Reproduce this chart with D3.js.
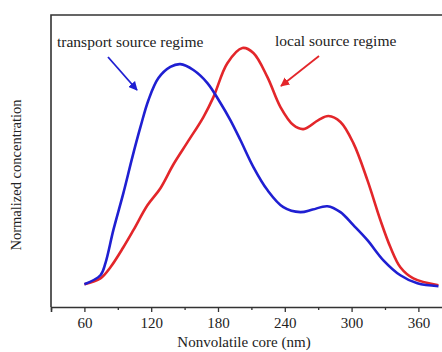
<!DOCTYPE html>
<html>
<head>
<meta charset="utf-8">
<script src="https://cdn.jsdelivr.net/npm/d3@7"></script>
<style>
  body { margin: 0; background: #fff; }
  svg { display: block; }
  text { font-family: "Liberation Serif", "DejaVu Serif", serif; fill: #222; }
</style>
</head>
<body>
<div id="chart"></div>
<script>
// core size in nm and normalized concentration
const transportX = [60, 74.4, 78.9, 86, 95, 103.1, 110.3, 117.5, 126.5, 137.2, 146.2, 157.9, 170.5, 182.2, 191.1, 200.1, 211.8, 224.4, 238.7, 254, 265, 278.3, 290, 301.6, 314.2, 328.6, 343.8, 359.1, 378];
const transportY = [0, 0.038, 0.089, 0.228, 0.384, 0.536, 0.662, 0.776, 0.869, 0.916, 0.928, 0.903, 0.848, 0.764, 0.692, 0.608, 0.494, 0.397, 0.325, 0.304, 0.315, 0.329, 0.304, 0.249, 0.186, 0.101, 0.038, 0.004, -0.008];

const localX = [60, 74.4, 83.4, 95, 104, 116.6, 128.3, 139.9, 152.5, 166.9, 175.9, 188.4, 201.9, 211.8, 224.4, 236.1, 247.7, 256.7, 270.2, 279.2, 290, 301.6, 314.2, 325.9, 334.9, 343.8, 355.5, 378];
const localY = [0, 0.025, 0.072, 0.156, 0.228, 0.333, 0.405, 0.505, 0.598, 0.705, 0.789, 0.932, 0.996, 0.975, 0.873, 0.747, 0.671, 0.654, 0.692, 0.709, 0.684, 0.595, 0.439, 0.270, 0.156, 0.072, 0.025, -0.004];

const majorTicks = [60, 120, 180, 240, 300, 360];
const minorTicks = [30, 90, 150, 210, 270, 330];

const width = 442, height = 352;
const plotLeft = 51, plotTop = 15, plotBottom = 307;

const svg = d3.select("#chart").append("svg")
  .attr("width", width)
  .attr("height", height);

const x = d3.scaleLinear().domain([30, 390]).range([plotLeft, plotLeft + 360 * 1.1133]);
const y = d3.scaleLinear().domain([-0.1, 1.135]).range([plotBottom + 1, plotTop]);

// frame, right side runs off the picture
svg.append("path")
  .attr("d", `M${plotLeft},${plotBottom} L${plotLeft},${plotTop} L${x(390)},${plotTop}`)
  .attr("fill", "none")
  .attr("stroke", "#333")
  .attr("stroke-width", 1.6);

const xAxis = svg.append("g")
  .attr("transform", `translate(0,${plotBottom})`)
  .call(d3.axisBottom(x).tickValues(majorTicks).tickSize(5).tickPadding(5).tickFormat(d3.format("d")));
xAxis.select(".domain").attr("stroke", "#333").attr("stroke-width", 1.6);
xAxis.selectAll(".tick line").attr("stroke", "#333").attr("stroke-width", 1.3);
xAxis.selectAll("text")
  .style("font-family", "Liberation Serif, serif")
  .style("font-size", "15px")
  .attr("fill", "#222");

svg.append("g")
  .attr("transform", `translate(0,${plotBottom})`)
  .call(d3.axisBottom(x).tickValues(minorTicks).tickSize(3).tickFormat(""))
  .call(g => g.select(".domain").remove())
  .selectAll(".tick line").attr("stroke", "#333").attr("stroke-width", 1.3);

const line = d3.line()
  .x(d => x(d[0]))
  .y(d => y(d[1]))
  .curve(d3.curveCatmullRom.alpha(0.5));

svg.append("path")
  .datum(d3.zip(localX, localY))
  .attr("d", line)
  .attr("fill", "none")
  .attr("stroke", "#e3262a")
  .attr("stroke-width", 2.6);

svg.append("path")
  .datum(d3.zip(transportX, transportY))
  .attr("d", line)
  .attr("fill", "none")
  .attr("stroke", "#1f1fd2")
  .attr("stroke-width", 2.6);

// arrow heads
const defs = svg.append("defs");
[["blueHead", "#1f1fd2"], ["redHead", "#e3262a"]].forEach(([id, c]) => {
  defs.append("marker")
    .attr("id", id)
    .attr("viewBox", "0 0 10 10")
    .attr("refX", 9).attr("refY", 5)
    .attr("markerWidth", 5).attr("markerHeight", 5)
    .attr("orient", "auto")
    .append("path").attr("d", "M0,0 L10,5 L0,10 z").attr("fill", c);
});

svg.append("line")
  .attr("x1", 108).attr("y1", 57).attr("x2", 137).attr("y2", 90)
  .attr("stroke", "#1f1fd2").attr("stroke-width", 1.8)
  .attr("marker-end", "url(#blueHead)");
svg.append("line")
  .attr("x1", 319).attr("y1", 56).attr("x2", 281).attr("y2", 86)
  .attr("stroke", "#e3262a").attr("stroke-width", 1.8)
  .attr("marker-end", "url(#redHead)");

svg.append("text")
  .attr("x", 57).attr("y", 47)
  .style("font-size", "15.5px")
  .text("transport source regime");
svg.append("text")
  .attr("x", 275).attr("y", 46)
  .style("font-size", "15.5px")
  .text("local source regime");

svg.append("text")
  .attr("x", 244).attr("y", 347)
  .attr("text-anchor", "middle")
  .style("font-size", "15px")
  .text("Nonvolatile core (nm)");

svg.append("text")
  .attr("transform", "translate(21,175) rotate(-90)")
  .attr("text-anchor", "middle")
  .style("font-size", "14.5px")
  .text("Normalized concentration");
</script>
</body>
</html>
